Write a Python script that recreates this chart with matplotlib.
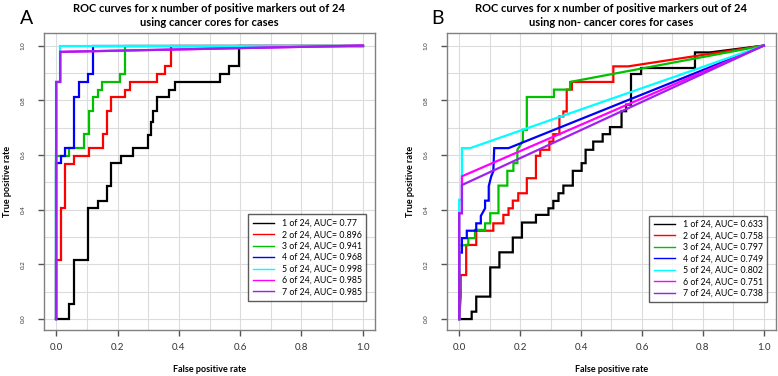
import matplotlib
matplotlib.use("Agg")
import matplotlib.pyplot as plt

plt.rcParams['font.family'] = ['Lato', 'DejaVu Sans']

# ---------------- data: panel A (cancer cores) ----------------
a1_fpr = [0, 0.042, 0.042, 0.059, 0.059, 0.105, 0.105, 0.135, 0.135, 0.164, 0.164, 0.179, 0.179, 0.211, 0.211, 0.252, 0.252, 0.299, 0.299, 0.308, 0.308, 0.315, 0.315, 0.328, 0.328, 0.369, 0.369, 0.388, 0.388, 0.535, 0.535, 0.565, 0.565, 0.596, 0.596, 1.0]
a1_tpr = [0, 0, 0.055, 0.055, 0.216, 0.216, 0.407, 0.407, 0.432, 0.432, 0.488, 0.488, 0.570, 0.570, 0.597, 0.597, 0.625, 0.625, 0.674, 0.674, 0.720, 0.720, 0.759, 0.759, 0.812, 0.812, 0.839, 0.839, 0.867, 0.867, 0.896, 0.896, 0.924, 0.924, 1.0, 1.0]
a2_fpr = [0, 0, 0.015, 0.015, 0.028, 0.028, 0.059, 0.059, 0.106, 0.106, 0.151, 0.151, 0.164, 0.164, 0.179, 0.179, 0.224, 0.224, 0.239, 0.239, 0.328, 0.328, 0.356, 0.356, 0.375, 0.375, 1.0]
a2_tpr = [0, 0.216, 0.216, 0.405, 0.405, 0.568, 0.568, 0.597, 0.597, 0.625, 0.625, 0.676, 0.676, 0.760, 0.760, 0.812, 0.812, 0.839, 0.839, 0.867, 0.867, 0.896, 0.896, 0.924, 0.924, 1.0, 1.0]
a3_fpr = [0, 0, 0.042, 0.042, 0.0915, 0.0915, 0.106, 0.106, 0.119, 0.119, 0.135, 0.135, 0.149, 0.149, 0.208, 0.208, 0.224, 0.224, 1.0]
a3_tpr = [0, 0.597, 0.597, 0.625, 0.625, 0.676, 0.676, 0.760, 0.760, 0.812, 0.812, 0.839, 0.839, 0.867, 0.867, 0.896, 0.896, 1.0, 1.0]
a4_fpr = [0, 0, 0.014, 0.014, 0.028, 0.028, 0.059, 0.059, 0.073, 0.073, 0.102, 0.102, 0.119, 0.119, 1.0]
a4_tpr = [0, 0.570, 0.570, 0.597, 0.597, 0.625, 0.625, 0.812, 0.812, 0.867, 0.867, 0.896, 0.896, 1.0, 1.0]
a5_fpr = [0, 0, 0.013, 0.013, 1.0]
a5_tpr = [0, 0.867, 0.867, 1.0, 1.0]
a6_fpr = [0, 0, 0.013, 0.013, 1.0]
a6_tpr = [0, 0.867, 0.867, 0.977, 1.0]
a7_fpr = [0, 0, 0.013, 0.013, 1.0]
a7_tpr = [0, 0.867, 0.867, 0.977, 1.0]
a_auc = ["0.77", "0.896", "0.941", "0.968", "0.998", "0.985", "0.985"]

# ---------------- data: panel B (non-cancer cores) ----------------
b1_fpr = [0, 0.041, 0.041, 0.056, 0.056, 0.102, 0.102, 0.132, 0.132, 0.176, 0.176, 0.206, 0.206, 0.252, 0.252, 0.293, 0.293, 0.309, 0.309, 0.326, 0.326, 0.342, 0.342, 0.373, 0.373, 0.402, 0.402, 0.415, 0.415, 0.44, 0.44, 0.471, 0.471, 0.495, 0.495, 0.533, 0.533, 0.548, 0.548, 0.564, 0.564, 0.597, 0.597, 0.774, 0.774, 0.823, 1.0]
b1_tpr = [0, 0, 0.027, 0.027, 0.082, 0.082, 0.189, 0.189, 0.244, 0.244, 0.298, 0.298, 0.353, 0.353, 0.381, 0.381, 0.405, 0.405, 0.432, 0.432, 0.46, 0.46, 0.488, 0.488, 0.542, 0.542, 0.570, 0.570, 0.619, 0.619, 0.649, 0.649, 0.676, 0.676, 0.702, 0.702, 0.760, 0.760, 0.784, 0.784, 0.896, 0.896, 0.918, 0.918, 0.975, 0.975, 1.0]
b2_fpr = [0, 0.005, 0.005, 0.023, 0.023, 0.056, 0.056, 0.112, 0.112, 0.145, 0.145, 0.162, 0.162, 0.176, 0.176, 0.194, 0.194, 0.222, 0.222, 0.252, 0.252, 0.266, 0.266, 0.296, 0.296, 0.309, 0.309, 0.329, 0.329, 0.342, 0.342, 0.353, 0.353, 0.37, 0.37, 0.506, 0.506, 0.555, 1.0]
b2_tpr = [0, 0.082, 0.161, 0.161, 0.271, 0.271, 0.323, 0.323, 0.35, 0.35, 0.381, 0.381, 0.405, 0.405, 0.433, 0.433, 0.46, 0.46, 0.515, 0.515, 0.597, 0.597, 0.619, 0.619, 0.649, 0.649, 0.676, 0.676, 0.741, 0.741, 0.759, 0.759, 0.839, 0.839, 0.867, 0.867, 0.924, 0.924, 1.0]
b3_fpr = [0, 0, 0.03, 0.03, 0.052, 0.052, 0.085, 0.085, 0.102, 0.102, 0.129, 0.129, 0.158, 0.158, 0.178, 0.178, 0.191, 0.191, 0.209, 0.209, 0.222, 0.222, 0.311, 0.311, 0.364, 0.364, 1.0]
b3_tpr = [0, 0.27, 0.27, 0.296, 0.296, 0.326, 0.326, 0.35, 0.35, 0.387, 0.387, 0.488, 0.488, 0.542, 0.542, 0.570, 0.570, 0.619, 0.65, 0.692, 0.692, 0.812, 0.812, 0.839, 0.839, 0.867, 1.0]
b4_fpr = [0, 0, 0.009, 0.009, 0.025, 0.025, 0.056, 0.056, 0.071, 0.071, 0.085, 0.085, 0.097, 0.097, 0.105, 0.112, 0.115, 0.162, 1.0]
b4_tpr = [0, 0.243, 0.243, 0.296, 0.296, 0.323, 0.323, 0.35, 0.35, 0.377, 0.405, 0.433, 0.433, 0.486, 0.521, 0.540, 0.625, 0.625, 1.0]
b5_fpr = [0, 0, 0.009, 0.009, 0.036, 1.0]
b5_tpr = [0, 0.436, 0.436, 0.625, 0.625, 1.0]
b6_fpr = [0, 0, 0.009, 0.009, 1.0]
b6_tpr = [0, 0.387, 0.387, 0.522, 1.0]
b7_fpr = [0, 0, 0.009, 0.009, 1.0]
b7_tpr = [0, 0.387, 0.387, 0.49, 1.0]
b_auc = ["0.633", "0.758", "0.797", "0.749", "0.802", "0.751", "0.738"]

series_names = ["1 of 24", "2 of 24", "3 of 24", "4 of 24", "5 of 24", "6 of 24", "7 of 24"]
colors = ["#000000", "#ff0000", "#00c000", "#0000ff", "#00ffff", "#ff00ff", "#a020f0"]
xticks = [0.0, 0.2, 0.4, 0.6, 0.8, 1.0]
xtick_labels = ["0.0", "0.2", "0.4", "0.6", "0.8", "1.0"]

a_curves = [(a1_fpr, a1_tpr), (a2_fpr, a2_tpr), (a3_fpr, a3_tpr), (a4_fpr, a4_tpr),
            (a5_fpr, a5_tpr), (a6_fpr, a6_tpr), (a7_fpr, a7_tpr)]
b_curves = [(b1_fpr, b1_tpr), (b2_fpr, b2_tpr), (b3_fpr, b3_tpr), (b4_fpr, b4_tpr),
            (b5_fpr, b5_tpr), (b6_fpr, b6_tpr), (b7_fpr, b7_tpr)]

W, H = 778, 376
fig = plt.figure(figsize=(W / 100, H / 100), dpi=100)
fig.patch.set_facecolor("white")


def make_panel(rect, curves, aucs, title2, letter, letter_x, leg_anchor):
    ax = fig.add_axes(rect)
    ax.set_xlim(-0.04, 1.04)
    ax.set_ylim(-0.04, 1.046)
    for g in [i / 10 for i in range(11)]:
        ax.axvline(g, color="#dcdcdc", lw=0.8, zorder=0)
        ax.axhline(g, color="#dcdcdc", lw=0.8, zorder=0)
    handles = []
    for (fx, ty), c, name, auc in zip(curves, colors, series_names, aucs):
        h, = ax.plot(fx, ty, color=c, lw=1.6, solid_joinstyle="miter",
                     label=f"{name}, AUC= {auc}")
        handles.append(h)
    for s in ax.spines.values():
        s.set_color("#808080")
        s.set_linewidth(1.0)
    ax.set_xticks(xticks)
    ax.set_xticklabels(xtick_labels)
    ax.set_yticks(xticks)
    ax.set_yticklabels(xtick_labels, rotation=90, va="center", fontsize=4.5)
    ax.tick_params(axis="x", length=4, width=1, color="#555555", labelsize=7,
                   labelcolor="#333333", pad=5)
    ax.tick_params(axis="y", length=4, width=1, color="#555555",
                   labelcolor="#333333", pad=9)
    ax.set_xlabel("False positive rate", fontsize=6.5, fontweight="bold")
    ax.set_ylabel("True positive rate", fontsize=6.5, fontweight="bold")
    ax.xaxis.set_label_coords(0.5, -0.118)
    ax.yaxis.set_label_coords(-0.098, 0.5)
    leg = ax.legend(handles=handles, loc="lower right", bbox_to_anchor=leg_anchor,
                    fontsize=6.3, frameon=True, fancybox=False, handlelength=2.4,
                    handletextpad=0.9, labelspacing=0.28, borderpad=0.5,
                    borderaxespad=0)
    leg.get_frame().set_edgecolor("#333333")
    leg.get_frame().set_linewidth(1.0)
    for line in leg.get_lines():
        line.set_linewidth(1.0)
    cx = rect[0] + rect[2] / 2
    fig.text(cx, 1 - 9 / H, "ROC curves for x number of positive markers out of 24",
             ha="center", va="center", fontsize=8, fontweight="bold")
    fig.text(cx, 1 - 23 / H, title2, ha="center", va="center",
             fontsize=8, fontweight="bold")
    fig.text(letter_x / W, 1 - 19 / H, letter, ha="center", va="center", fontsize=14)
    return ax


make_panel([44 / W, 46 / H, 331 / W, 297 / H], a_curves, a_auc,
           "using cancer cores for cases", "A", 27, (0.973, 0.098))
make_panel([447 / W, 46 / H, 329 / W, 297 / H], b_curves, b_auc,
           "using non- cancer cores for cases", "B", 437, (0.973, 0.094))

fig.savefig("out.png", dpi=100, facecolor="white")
